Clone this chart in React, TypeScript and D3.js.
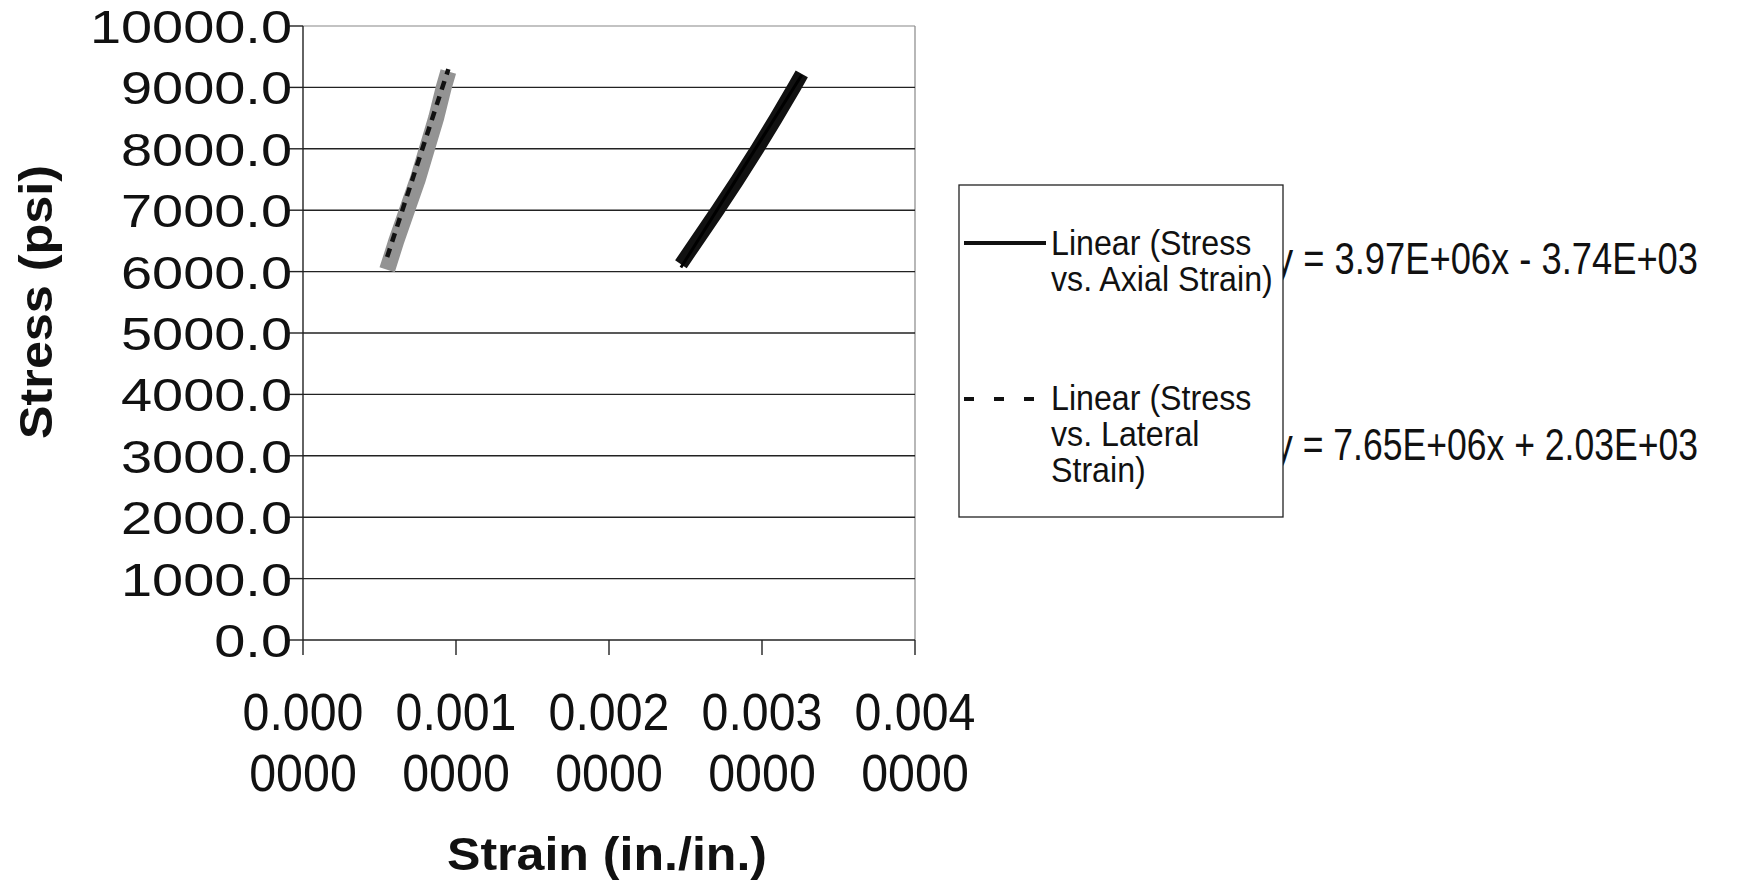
import React from "react";
import * as d3 from "d3";

// values
const yTickValues = [0, 1000, 2000, 3000, 4000, 5000, 6000, 7000, 8000, 9000, 10000];
const xTickValues = [0, 0.001, 0.002, 0.003, 0.004];
const xTickLabels = ["0.0000000", "0.0010000", "0.0020000", "0.0030000", "0.0040000"];

const axialStrain = [0.00247, 0.00259, 0.00271, 0.00284, 0.00297, 0.00309, 0.00321, 0.00326];
const axialStress = [6120, 6560, 7000, 7490, 8000, 8490, 9000, 9220];

const lateralStrain = [0.00055, 0.00061, 0.00068, 0.00075, 0.00081, 0.00087, 0.00092, 0.00095];
const lateralStress = [6030, 6500, 7000, 7500, 8000, 8500, 9000, 9260];

const trendNames = ["Linear (Stress|vs. Axial Strain)", "Linear (Stress|vs. Lateral|Strain)"];
const trendSlope = [3.97e6, 7.65e6];
const trendIntercept = [-3.74e3, 2.03e3];
const trendLabels = ["y = 3.97E+06x - 3.74E+03", "y = 7.65E+06x + 2.03E+03"];

const W = 1754;
const H = 890;
const margin = {top: 26, right: 839, bottom: 250, left: 303};
const font = "'Liberation Sans', Arial, sans-serif";

const zip = (a: number[], b: number[]) => a.map((k, i) => [k, b[i]] as [number, number]);

export default function App() {
    const x = d3.scaleLinear().domain([0, 0.004]).range([margin.left, W - margin.right]);
    const y = d3.scaleLinear().domain([0, 10000]).range([H - margin.bottom, margin.top]);
    const line = d3.line<[number, number]>().x(d => x(d[0])).y(d => y(d[1]));

    const axialPts = zip(axialStrain, axialStress);
    const lateralPts = zip(lateralStrain, lateralStress);
    const trend = (i: number, xs: number[]) => {
        const ext = d3.extent(xs) as [number, number];
        return ext.map(v => [v, trendSlope[i] * v + trendIntercept[i]] as [number, number]);
    };

    const x0 = x.range()[0], x1 = x.range()[1];
    const yb = y.range()[0], yt = y.range()[1];

    const legX = 959, legY = 185, legW = 324, legH = 332;

    return (
        <svg width={W} height={H} style={{display: "block", position: "absolute", left: 0, top: 0, background: "#fff"}}
             fontFamily={font}>
            <rect x={0} y={0} width={W} height={H} fill="#fff"/>

            {/* plot frame + gridlines */}
            <line x1={x0} x2={x1} y1={yt} y2={yt} stroke="#888" strokeWidth={1.2}/>
            <line x1={x1} x2={x1} y1={yt} y2={yb} stroke="#888" strokeWidth={1.2}/>
            {yTickValues.filter(v => v > 0 && v < 10000).map(v => (
                <line key={"g" + v} x1={x0} x2={x1} y1={y(v)} y2={y(v)} stroke="#222" strokeWidth={1.4}/>
            ))}

            {/* y axis */}
            <line x1={x0} x2={x0} y1={yt} y2={yb} stroke="#222" strokeWidth={1.4}/>
            {yTickValues.map(v => (
                <g key={"y" + v}>
                    <line x1={x0 - 16} x2={x0} y1={y(v)} y2={y(v)} stroke="#222" strokeWidth={1.4}/>
                    <g transform={`translate(${x0 - 11},${y(v)}) scale(1.19,1)`}>
                        <text x={0} y={0} dy="0.36em" textAnchor="end" fontSize={47} fill="#111">
                            {d3.format(".1f")(v)}
                        </text>
                    </g>
                </g>
            ))}

            {/* x axis */}
            <line x1={x0} x2={x1} y1={yb} y2={yb} stroke="#222" strokeWidth={1.4}/>
            {xTickValues.map((v, i) => (
                <g key={"x" + v}>
                    <line x1={x(v)} x2={x(v)} y1={yb} y2={yb + 15} stroke="#222" strokeWidth={1.4}/>
                    <g transform={`translate(${x(v)},0) scale(0.93,1)`}>
                        <text x={0} y={730} textAnchor="middle" fontSize={52} fill="#111">
                            {xTickLabels[i].slice(0, 5)}
                        </text>
                        <text x={0} y={791} textAnchor="middle" fontSize={52} fill="#111">
                            {xTickLabels[i].slice(5)}
                        </text>
                    </g>
                </g>
            ))}

            {/* axis titles */}
            <text x={607} y={870} textAnchor="middle" fontSize={46} fontWeight="bold" fill="#111"
                  textLength={320} lengthAdjust="spacingAndGlyphs">Strain (in./in.)</text>
            <text transform={`translate(52,302) rotate(-90)`} textAnchor="middle" fontSize={46} fontWeight="bold"
                  fill="#111" textLength={274} lengthAdjust="spacingAndGlyphs">Stress (psi)</text>

            {/* lateral series (gray band) and its dashed trendline */}
            <path d={line(lateralPts) || ""} fill="none" stroke="#939393" strokeWidth={16}/>
            <path d={line(trend(1, lateralStrain)) || ""} fill="none" stroke="#111" strokeWidth={4.5}
                  strokeDasharray="9,7"/>

            {/* axial series and its trendline */}
            <path d={line(axialPts) || ""} fill="none" stroke="#111" strokeWidth={14} strokeLinejoin="round"/>
            <path d={line(trend(0, axialStrain)) || ""} fill="none" stroke="#000" strokeWidth={3}/>

            {/* trendline equations, the leading "y" sits under the legend as in the original */}
            {trendLabels.map((t, i) => (
                <text key={t} x={1275} y={i === 0 ? 274 : 460} fontSize={44} fill="#111"
                      textLength={423} lengthAdjust="spacingAndGlyphs">{t}</text>
            ))}

            {/* legend */}
            <rect x={legX} y={legY} width={legW} height={legH} fill="#fff" stroke="#222" strokeWidth={1.3}/>
            {trendNames.map((name, i) => {
                const ly = i === 0 ? 243 : 399;
                const ty = i === 0 ? 255 : 410;
                return (
                    <g key={name}>
                        <line x1={964} x2={1046} y1={ly} y2={ly} stroke="#111" strokeWidth={4}
                              strokeDasharray={i === 1 ? "10,20" : undefined}/>
                        {name.split("|").map((s, j) => (
                            <g key={s} transform={`translate(1051,${ty + j * 36}) scale(0.92,1)`}>
                                <text x={0} y={0} fontSize={35} fill="#111">{s}</text>
                            </g>
                        ))}
                    </g>
                );
            })}
        </svg>
    );
}
